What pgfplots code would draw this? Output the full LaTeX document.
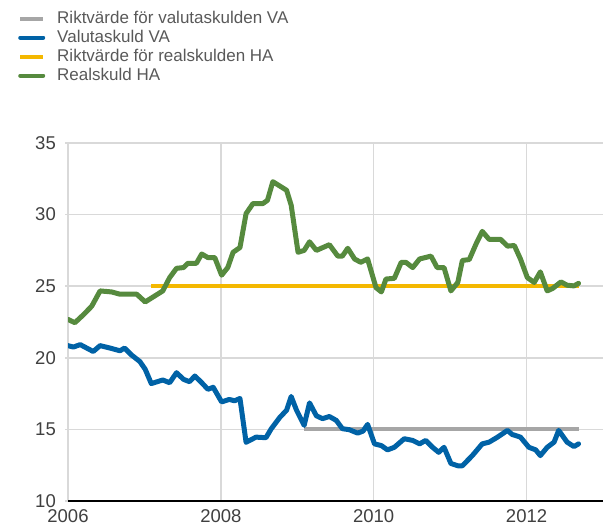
\documentclass[border=0pt]{standalone}
\usepackage{fontspec}
\setmainfont{Liberation Sans}
\usepackage{pgfplots}
\pgfplotsset{compat=1.18}
\definecolor{cgreen}{HTML}{568A3E}
\definecolor{cblue}{HTML}{0062A6}
\definecolor{cyellow}{HTML}{F4B800}
\definecolor{cgray}{HTML}{A6A6A6}
\definecolor{cgrid}{HTML}{D9D9D9}
\definecolor{ctext}{HTML}{404040}
\definecolor{cleg}{HTML}{595959}
\begin{document}
\begin{tikzpicture}
\path[use as bounding box] (0,0) rectangle (603bp,526bp);
\begin{axis}[
  at={(68bp,25bp)}, anchor=south west,
  scale only axis, width=535bp, height=358bp,
  xmin=2006, xmax=2013, ymin=10, ymax=35,
  xtick={2006,2008,2010,2012}, ytick={10,15,20,25,30,35},
  xticklabels={2006,2008,2010,2012},
  /pgf/number format/assume math mode=true,
  axis x line=bottom, axis y line=left,
  x axis line style={black, line width=2.5bp, -},
  y axis line style={draw=none},
  grid=major, major grid style={cgrid, line width=1.5bp},
  tick align=outside, major tick length=3bp,
  xtick style={draw=none}, ytick style={cgrid, line width=1.5bp},
  tick label style={font=\fontsize{18.5bp}{22bp}\selectfont, text=ctext},
  yticklabel style={inner sep=0pt, xshift=-9bp},
  xticklabel style={inner sep=0pt, yshift=-5.5bp},
  legend style={at={(-0.099,1.38)}, anchor=north west, draw=none, fill=none,
    font=\fontsize{17bp}{20bp}\selectfont, text=cleg, row sep=0pt,
    nodes={inner xsep=0pt, inner ysep=1.5bp, text height=12.5bp, text depth=3.5bp},
    /tikz/every odd column/.append style={column sep=12bp}},
  legend cell align=left,
  legend image code/.code={\draw[line width=4bp] (0bp,0bp) -- (23bp,0bp);},
  every axis plot/.append style={line join=round, line cap=round},
]
\addplot[cgray, line width=4bp, line cap=butt] coordinates {(2009.09,15) (2012.68,15)};
\addlegendentry{Riktvärde för valutaskulden VA}
\addplot[cblue, line width=5bp] coordinates {
(2006.00,20.85) (2006.07,20.75) (2006.16,20.92) (2006.33,20.44) (2006.42,20.85)
(2006.55,20.68) (2006.68,20.49) (2006.74,20.68) (2006.83,20.2) (2006.94,19.74)
(2007.01,19.2) (2007.09,18.2) (2007.24,18.45) (2007.33,18.26) (2007.42,18.96)
(2007.51,18.5) (2007.59,18.33) (2007.66,18.73) (2007.75,18.26) (2007.83,17.8)
(2007.90,17.94) (2008.01,16.92) (2008.11,17.09) (2008.18,17.0) (2008.25,17.16)
(2008.33,14.1) (2008.46,14.46) (2008.59,14.42) (2008.66,15.05) (2008.77,15.83)
(2008.86,16.34) (2008.92,17.3) (2008.99,16.34) (2009.09,15.28) (2009.16,16.85)
(2009.25,15.95) (2009.33,15.75) (2009.42,15.9) (2009.51,15.63) (2009.59,15.05)
(2009.68,14.98) (2009.79,14.74) (2009.86,14.88) (2009.92,15.35) (2010.01,13.99)
(2010.10,13.87) (2010.18,13.57) (2010.27,13.75) (2010.40,14.35) (2010.51,14.23)
(2010.60,13.99) (2010.68,14.23) (2010.77,13.75) (2010.85,13.4) (2010.92,13.75)
(2011.01,12.62) (2011.10,12.46) (2011.16,12.46) (2011.29,13.17) (2011.42,13.99)
(2011.51,14.11) (2011.62,14.46) (2011.75,14.93) (2011.81,14.65) (2011.92,14.46)
(2012.03,13.75) (2012.12,13.57) (2012.18,13.17) (2012.27,13.75) (2012.36,14.11)
(2012.42,14.93) (2012.53,14.11) (2012.62,13.8) (2012.68,13.99)};
\addlegendentry{Valutaskuld VA}
\addplot[cyellow, line width=4.5bp, line cap=butt] coordinates {(2007.09,25) (2012.68,25)};
\addlegendentry{Riktvärde för realskulden HA}
\addplot[cgreen, line width=5bp] coordinates {
(2006.00,22.68) (2006.09,22.45) (2006.20,23.0) (2006.31,23.6) (2006.42,24.67)
(2006.57,24.6) (2006.68,24.44) (2006.90,24.44) (2007.01,23.9) (2007.24,24.67)
(2007.33,25.6) (2007.42,26.25) (2007.51,26.3) (2007.57,26.6) (2007.68,26.6)
(2007.75,27.25) (2007.83,27.0) (2007.92,27.0) (2008.01,25.77) (2008.09,26.3)
(2008.16,27.37) (2008.25,27.7) (2008.33,30.07) (2008.42,30.77) (2008.55,30.77)
(2008.61,31.0) (2008.68,32.3) (2008.86,31.7) (2008.92,30.66) (2009.01,27.37)
(2009.09,27.5) (2009.16,28.1) (2009.25,27.5) (2009.42,27.9) (2009.53,27.1)
(2009.59,27.1) (2009.66,27.65) (2009.75,26.9) (2009.83,26.67) (2009.92,26.9)
(2010.03,24.9) (2010.10,24.6) (2010.16,25.5) (2010.27,25.55) (2010.36,26.67)
(2010.42,26.67) (2010.51,26.3) (2010.60,26.9) (2010.75,27.1) (2010.83,26.3)
(2010.92,26.3) (2011.01,24.67) (2011.10,25.26) (2011.16,26.8) (2011.25,26.86)
(2011.34,27.96) (2011.42,28.83) (2011.51,28.27) (2011.66,28.27) (2011.75,27.8)
(2011.84,27.84) (2011.92,26.9) (2012.01,25.6) (2012.10,25.26) (2012.18,26.0)
(2012.27,24.67) (2012.34,24.84) (2012.45,25.3) (2012.53,25.07) (2012.62,25.02)
(2012.68,25.2)};
\addlegendentry{Realskuld HA}
\end{axis}
\end{tikzpicture}
\end{document}
